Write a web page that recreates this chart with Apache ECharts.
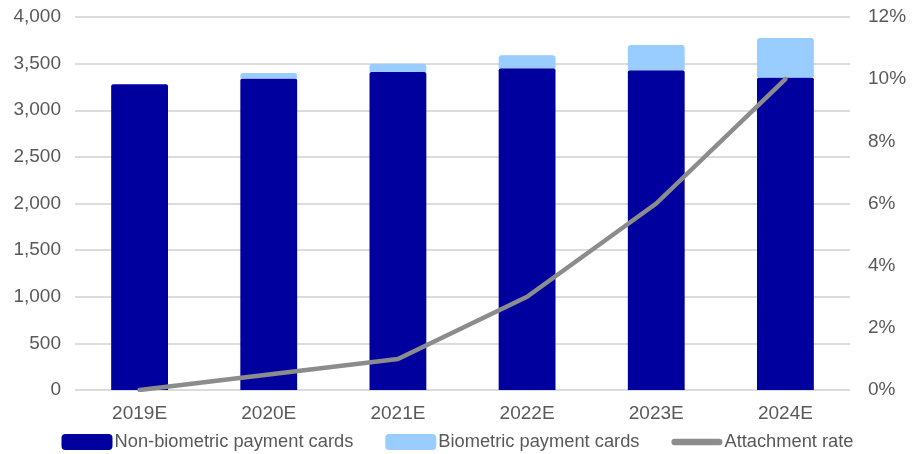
<!DOCTYPE html>
<html>
<head>
<meta charset="utf-8">
<script src="https://cdn.jsdelivr.net/npm/echarts@6/dist/echarts.min.js"></script>
<style>
  html, body { margin: 0; padding: 0; background: #fff; }
  #chart { width: 915px; height: 454px; }
</style>
</head>
<body>
<div id="chart"></div>
<script>
// Card shipments (millions) and biometric attachment rate (%)
const years = ['2019E', '2020E', '2021E', '2022E', '2023E', '2024E'];
const nonBiometric = [3280, 3340, 3410, 3450, 3430, 3350];
const biometric = [0, 60, 90, 140, 270, 425];
const attachmentRate = [0, 0.5, 1, 3, 6, 10];

const textColor = '#595959';
const font = 'Liberation Sans, Arial, sans-serif';
// thick rounded bar used as the legend key of the line series
const lineKey = 'path://M3,0 H45 A3,3 0 0 1 45,6 H3 A3,3 0 0 1 3,0 Z';

const chart = echarts.init(document.getElementById('chart'), null, { renderer: 'canvas' });
chart.setOption({
  animation: false,
  textStyle: { fontFamily: font },
  grid: { left: 75, right: 65, top: 17, bottom: 64 },
  legend: {
    top: 433,
    left: 'center',
    padding: 0,
    itemWidth: 51,
    itemHeight: 16,
    itemGap: 32,
    symbolKeepAspect: true,
    textStyle: { color: textColor, fontSize: 18.3, fontFamily: font, padding: [0, 0, 0, -3] },
    data: [
      { name: 'Non-biometric payment cards', icon: 'roundRect' },
      { name: 'Biometric payment cards', icon: 'roundRect' },
      { name: 'Attachment rate', icon: lineKey, itemStyle: { color: '#8c8c8c', borderWidth: 0 } }
    ]
  },
  xAxis: {
    type: 'category',
    data: years,
    axisLine: { show: false },
    axisTick: { show: false },
    axisLabel: { color: textColor, fontSize: 19, margin: 14 }
  },
  yAxis: [
    {
      type: 'value',
      min: 0, max: 4000, interval: 500,
      axisLine: { show: false },
      axisTick: { show: false },
      splitLine: { lineStyle: { color: '#d0d0d0', width: 1.5 } },
      axisLabel: {
        color: textColor, fontSize: 19, margin: 14,
        formatter: v => v.toLocaleString('en-US')
      }
    },
    {
      type: 'value',
      min: 0, max: 12, interval: 2,
      axisLine: { show: false },
      axisTick: { show: false },
      splitLine: { show: false },
      axisLabel: { color: textColor, fontSize: 19, margin: 18, formatter: '{value}%' }
    }
  ],
  series: [
    {
      name: 'Non-biometric payment cards',
      type: 'bar',
      stack: 'cards',
      barWidth: '44%',
      data: nonBiometric,
      itemStyle: { color: '#00009f', borderRadius: [2, 2, 0, 0] }
    },
    {
      name: 'Biometric payment cards',
      type: 'bar',
      stack: 'cards',
      data: biometric,
      itemStyle: { color: '#99ccff', borderRadius: [3, 3, 1, 1] }
    },
    {
      name: 'Attachment rate',
      type: 'line',
      yAxisIndex: 1,
      data: attachmentRate,
      symbol: 'none',
      lineStyle: { color: '#8c8c8c', width: 4.5, cap: 'round' },
      itemStyle: { color: '#8c8c8c' },
      z: 5
    }
  ]
});
</script>
</body>
</html>
